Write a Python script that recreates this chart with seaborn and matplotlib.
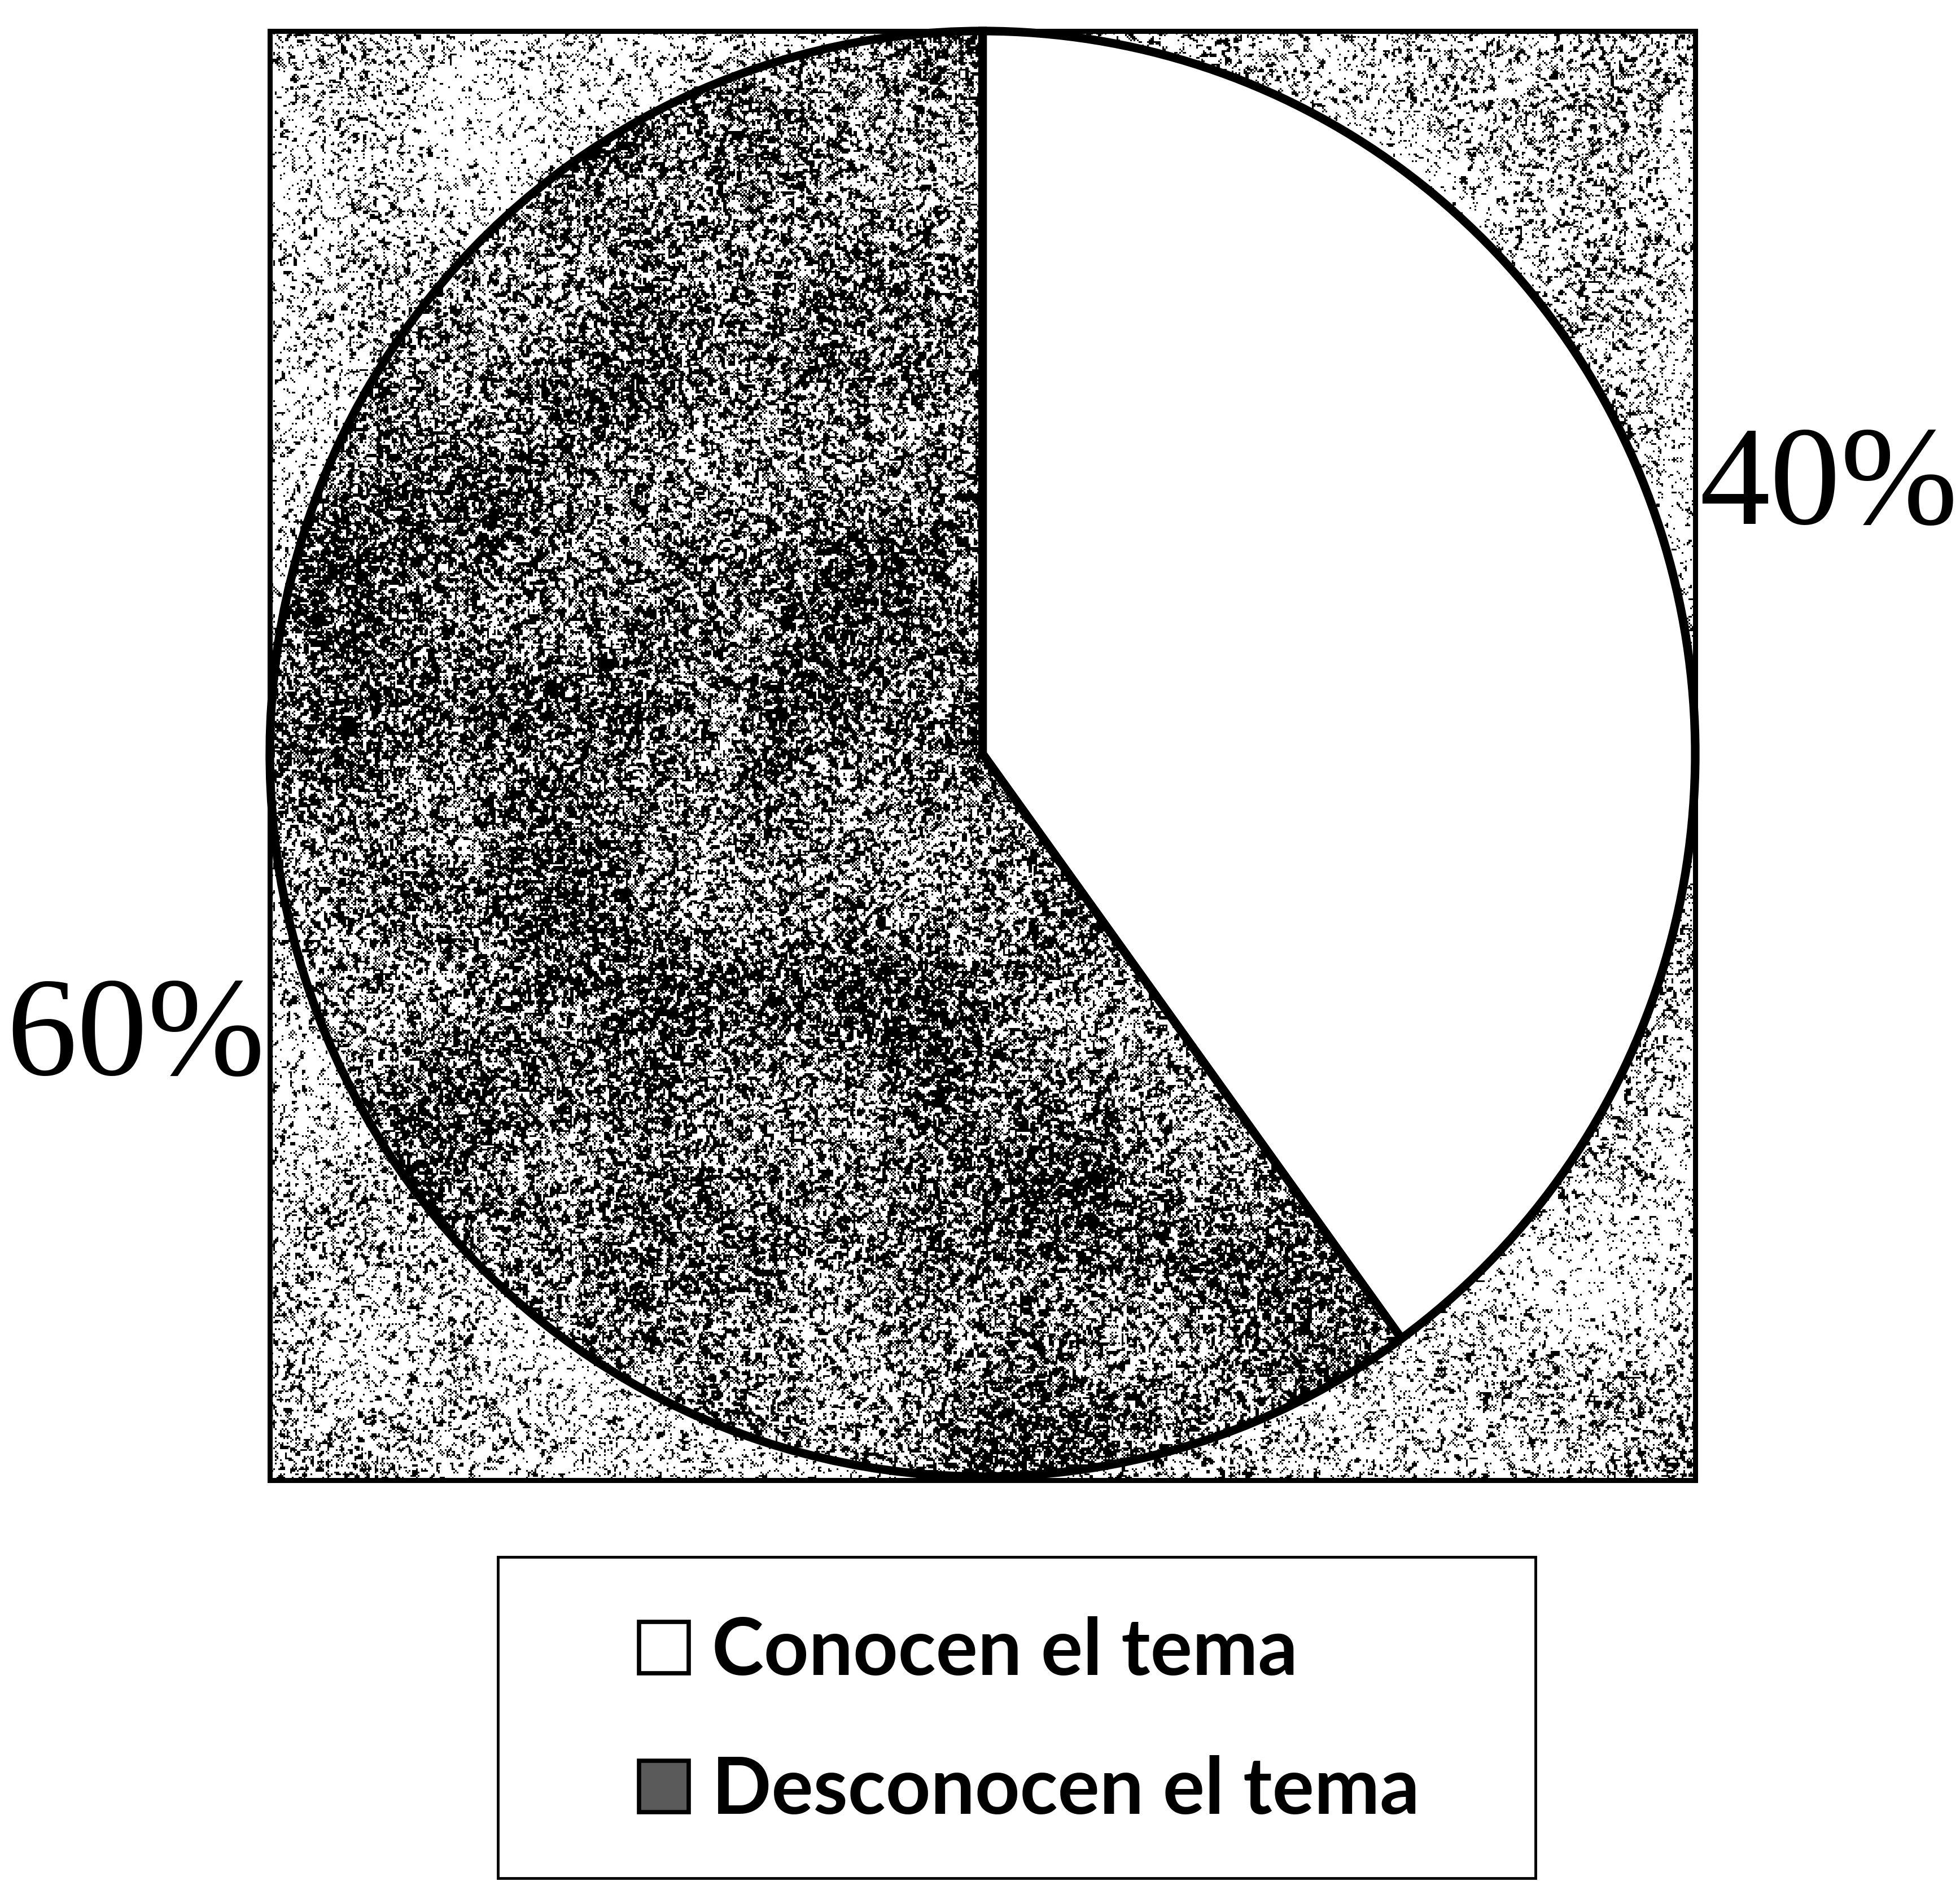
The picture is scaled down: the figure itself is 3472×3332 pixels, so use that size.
import numpy as np
import matplotlib
matplotlib.use("Agg")
import matplotlib.pyplot as plt
import matplotlib.patches as mpatches
from matplotlib.font_manager import FontProperties
import seaborn as sns

# ---- data ----
categories = ["Conocen el tema", "Desconocen el tema"]
values = [40, 60]
pct_labels = ["40%", "60%"]
slice_colors = ["#ffffff", "#5a5a5a"]

sns.set_theme(style="white")
plt.rcParams['font.family'] = ['DejaVu Sans']
plt.rcParams['text.color'] = 'black'

W, H, DPI = 3473, 3332, 100
fig = plt.figure(figsize=(W / DPI, H / DPI), dpi=DPI)
fig.patch.set_facecolor("white")

# axes = the textured square plot area
ax = fig.add_axes([478 / W, 1 - 2622 / H, 2525 / W, 2567 / H])

xlim = (-1.0, 1.0)
ylim = (-1.005, 1.0)


def texture(n, density, seed):
    rng = np.random.default_rng(seed)
    a = rng.random((n, n))
    b = (a + np.roll(a, 1, 0) + np.roll(a, -1, 0) + np.roll(a, 1, 1) + np.roll(a, -1, 1)) / 5.0
    c = rng.random((n // 40 + 2, n // 40 + 2))
    c = np.kron(c, np.ones((40, 40)))[:n, :n]
    for _ in range(3):
        c = (c + np.roll(c, 20, 0) + np.roll(c, -20, 0) + np.roll(c, 20, 1) + np.roll(c, -20, 1)) / 5.0
    b = b + 0.25 * (c - c.mean())
    thr = np.quantile(b, density)
    return np.where(b < thr, 0.0, 1.0)


bg_tex = texture(840, 0.20, 1)
dk_tex = texture(840, 0.55, 2)

ax.imshow(bg_tex, cmap="gray", vmin=0, vmax=1, interpolation="nearest",
          extent=(xlim[0], xlim[1], ylim[0], ylim[1]), aspect="auto", zorder=0)

wedges, _ = ax.pie(values, colors=slice_colors, startangle=90, counterclock=False,
                   wedgeprops=dict(linewidth=0, zorder=1))

dk = ax.imshow(dk_tex, cmap="gray", vmin=0, vmax=1, interpolation="nearest",
               extent=(xlim[0], xlim[1], ylim[0], ylim[1]), aspect="auto", zorder=1.5)
dk.set_clip_path(wedges[1])

# outline pass
ax.pie(values, colors=["none", "none"], startangle=90, counterclock=False,
       wedgeprops=dict(linewidth=11, edgecolor="black", facecolor="none", zorder=3))

ax.set_aspect("auto")
ax.set_xlim(*xlim)
ax.set_ylim(*ylim)
ax.set_frame_on(True)
for s in ax.spines.values():
    s.set_visible(True)
    s.set_color("black")
    s.set_linewidth(6.5)
ax.set_xticks([])
ax.set_yticks([])

# percentage labels
serif = FontProperties(family="Liberation Serif", size=180)
ax.text(1.006, 0.318, pct_labels[0], ha="left", va="baseline", fontproperties=serif,
        color="black", clip_on=False)
ax.text(-1.007, -0.444, pct_labels[1], ha="right", va="baseline", fontproperties=serif,
        color="black", clip_on=False)

# legend
handles = [
    mpatches.Patch(facecolor=slice_colors[0], edgecolor="black", linewidth=5.5),
    mpatches.Patch(facecolor=slice_colors[1], edgecolor="black", linewidth=5.5),
]
lfont = FontProperties(family="Lato", weight="bold", size=100)
fig.legend(handles, categories, loc="upper left", bbox_to_anchor=(1132 / W, 1 - 2863 / H),
           bbox_transform=fig.transFigure, frameon=False, borderpad=0, borderaxespad=0,
           handlelength=0.63, handleheight=0.63, handletextpad=0.3, labelspacing=0.86,
           prop=lfont, labelcolor="black")

box = mpatches.Rectangle((882 / W, 0.0015), 1838 / W, (3332 - 2758) / H - 0.0015,
                         transform=fig.transFigure, fill=False, edgecolor="black",
                         linewidth=3.5, clip_on=False)
fig.add_artist(box)

fig.savefig("out.png", dpi=DPI, facecolor="white")
